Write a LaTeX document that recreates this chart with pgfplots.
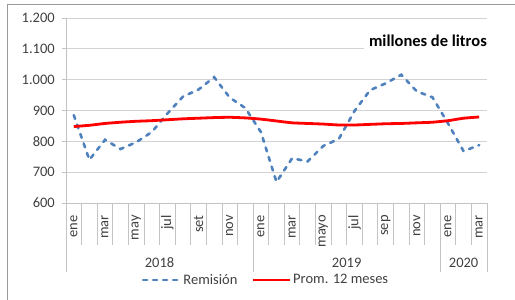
\documentclass[border=0pt]{standalone}
\usepackage{pgfplots}
\pgfplotsset{compat=1.18}
\usepackage{fontspec}
\setmainfont{Carlito}
\definecolor{remblue}{RGB}{79,129,189}
\definecolor{gridgray}{RGB}{210,210,210}
\definecolor{sepgray}{RGB}{195,195,195}
\definecolor{txtgray}{RGB}{64,64,64}
\begin{document}
\begin{tikzpicture}[x=1pt,y=1pt]
\useasboundingbox (0,0) rectangle (515,300);
\draw[color=black!40, line width=0.8pt] (7,0) -- (7,296) -- (515,296);
\begin{axis}[
  at={(66pt,97pt)}, anchor=south west,
  scale only axis, width=421pt, height=185pt,
  xmin=-0.5, xmax=26.5, ymin=600, ymax=1200,
  ytick={600,700,...,1200},
  xtick={0,...,26},
  xticklabels={ene,,mar,,may,,jul,,set,,nov,,ene,,mar,,mayo,,jul,,sep,,nov,,ene,,mar},
  axis x line=bottom, axis y line=left,
  axis line style={-, draw=sepgray, line width=0.8pt},
  ymajorgrids, grid style={draw=gridgray, line width=0.8pt},
  xtick style={draw=none},
  ytick style={draw=sepgray, line width=0.8pt},
  tick align=outside, major tick length=4pt,
  tick label style={font=\fontsize{14.5}{16}\selectfont, text=txtgray},
  xticklabel style={rotate=90, anchor=east, inner sep=1pt},
  xticklabel shift=7pt,
  yticklabel style={inner sep=1pt},
  yticklabel shift=6pt,
  /pgf/number format/.cd, 1000 sep={.}, assume math mode=true,
  /pgfplots/.cd,
  clip=false,
  legend style={at={(0.475,-0.416)}, anchor=center, draw=none, fill=none,
    legend columns=2, font=\fontsize{14.5}{16}\selectfont, text=txtgray,
    /tikz/every even column/.append style={column sep=12pt},
    cells={anchor=west}, inner sep=0pt},
  legend image code/.code={\draw[#1] (0pt,0pt) -- (37pt,0pt);},
]
\addplot[color=remblue, line width=2.6pt, dash pattern=on 4pt off 6pt, line cap=round] coordinates {
(0,885) (1,740) (2,805) (3,775) (4,797) (5,830) (6,890) (7,945) (8,968) (9,1008)
(10,942) (11,908) (12,830) (13,668) (14,745) (15,735) (16,785) (17,808) (18,898)
(19,966) (20,988) (21,1016) (22,962) (23,943) (24,858) (25,768) (26,788)};
\addlegendentry{Remisión}
\addplot[color=red, line width=2.8pt, smooth, tension=0.3] coordinates {
(0,848) (1,852) (2,858) (3,862) (4,865) (5,867) (6,870) (7,873) (8,875) (9,877)
(10,878) (11,876) (12,872) (13,866) (14,860) (15,858) (16,856) (17,853) (18,853)
(19,855) (20,857) (21,858) (22,860) (23,862) (24,867) (25,875) (26,879)};
\addlegendentry{Prom. 12 meses}
\pgfplotsinvokeforeach{0.5,1.5,2.5,3.5,4.5,5.5,6.5,7.5,8.5,9.5,10.5,12.5,13.5,14.5,15.5,16.5,17.5,18.5,19.5,20.5,21.5,22.5,24.5,25.5}{
  \draw[sepgray, line width=0.8pt] (axis cs:#1,600) -- ([yshift=-42pt]axis cs:#1,600);
}
\pgfplotsinvokeforeach{-0.5,11.5,23.5,26.5}{
  \draw[sepgray, line width=0.8pt] (axis cs:#1,600) -- ([yshift=-69pt]axis cs:#1,600);
}
\node[font=\fontsize{14.5}{16}\selectfont, text=txtgray] at ([yshift=-60pt]axis cs:5.5,600) {2018};
\node[font=\fontsize{14.5}{16}\selectfont, text=txtgray] at ([yshift=-60pt]axis cs:17.5,600) {2019};
\node[font=\fontsize{14.5}{16}\selectfont, text=txtgray] at ([yshift=-60pt]axis cs:25,600) {2020};
\end{axis}
\node[anchor=east, fill=white, inner sep=5pt, font=\bfseries\fontsize{16.5}{18}\selectfont, text=black] at (492,259) {millones de litros};
\end{tikzpicture}
\end{document}
